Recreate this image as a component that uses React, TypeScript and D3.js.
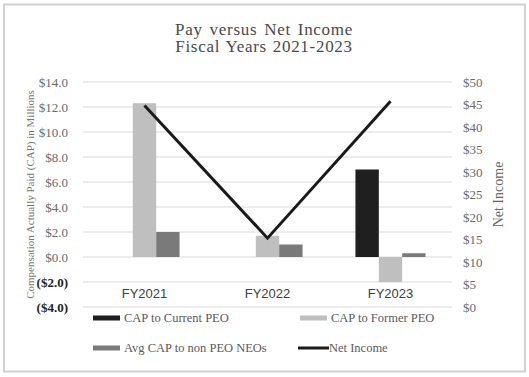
import React from "react";
import * as d3 from "d3";

const categories = ["FY2021", "FY2022", "FY2023"];
const seriesNames = ["CAP to Current PEO", "CAP to Former PEO", "Avg CAP to non PEO NEOs"];
const capCurrentPEO = [0, 0, 7.0];
const capFormerPEO = [12.3, 1.7, -2.0];
const avgCapNonPEO = [2.0, 1.0, 0.3];
const netIncome = [44.8, 15.3, 45.7];
const leftTicks = [-4, -2, 0, 2, 4, 6, 8, 10, 12, 14];
const rightTicks = [0, 5, 10, 15, 20, 25, 30, 35, 40, 45, 50];

const W = 529;
const H = 377;
const M = { left: 83, right: 77, top: 82, bottom: 70 };
const serif = "'Liberation Serif', 'Times New Roman', serif";
const sans = "'Liberation Sans', Arial, sans-serif";
const barColors = ["#1f1f1f", "#bfbfbf", "#7a7a7a"];

export default function App() {
  const x0 = d3
    .scaleBand<string>()
    .domain(categories)
    .range([M.left, W - M.right])
    .paddingInner(0.43)
    .paddingOuter(0.215);
  const x1 = d3.scaleBand<number>().domain([0, 1, 2]).range([0, x0.bandwidth()]);
  const yL = d3.scaleLinear().domain([-4, 14]).range([H - M.bottom, M.top]);
  const yR = d3.scaleLinear().domain([0, 50]).range([H - M.bottom, M.top]);
  const series = [capCurrentPEO, capFormerPEO, avgCapNonPEO];
  const cx = (c: string) => (x0(c) as number) + x0.bandwidth() / 2;
  const line = d3
    .line<number>()
    .x((_, i) => cx(categories[i]))
    .y((d) => yR(d));
  function fmtL(v: number) {
    const s = "$" + Math.abs(v).toFixed(1);
    return v < 0 ? "(" + s + ")" : s;
  }
  const legend = [
    { label: seriesNames[0], color: barColors[0], x: 93, y: 318, type: "bar" },
    { label: seriesNames[1], color: barColors[1], x: 300, y: 318, type: "bar" },
    { label: seriesNames[2], color: barColors[2], x: 93, y: 348, type: "bar" },
    { label: "Net Income", color: "#1a1a1a", x: 298, y: 348, type: "line" },
  ];
  return (
    <div style={{ position: "absolute", left: 0, top: 0 }}>
      <svg width={W} height={H} style={{ display: "block", background: "#fff" }}>
        <rect x={4} y={4.5} width={521} height={367} fill="#fff" stroke="#d2d2d2" strokeWidth={2} />
        <text x={264} y={34.5} textAnchor="middle" fontFamily={serif} fontSize={17} letterSpacing={0.7} wordSpacing={2} fill="#4a4a4a">
          Pay versus Net Income
        </text>
        <text x={264} y={52} textAnchor="middle" fontFamily={serif} fontSize={17} letterSpacing={0.7} wordSpacing={1} fill="#4a4a4a">
          Fiscal Years 2021-2023
        </text>
        {leftTicks.map((t) => (
          <g key={t}>
            <line x1={M.left} x2={W - M.right} y1={yL(t)} y2={yL(t)} stroke="#d9d9d9" strokeWidth={1} />
            <text
              x={68}
              y={yL(t)}
              dy="0.35em"
              textAnchor="end"
              fontFamily={serif}
              fontSize={13}
              fontWeight={t < 0 ? "bold" : "normal"}
              fill={t < 0 ? "#222" : "#6a6a6a"}
            >
              {fmtL(t)}
            </text>
          </g>
        ))}
        {rightTicks.map((t) => (
          <text key={t} x={463} y={yR(t)} dy="0.35em" fontFamily={serif} fontSize={13} fill="#6a6a6a">
            {"$" + t}
          </text>
        ))}
        {categories.map((c, ci) => (
          <g key={c}>
            {series.map((s, si) => {
              const v = s[ci];
              if (v === 0) return null;
              const xx = (x0(c) as number) + (x1(si) as number);
              return (
                <rect
                  key={si}
                  x={xx}
                  width={x1.bandwidth()}
                  y={Math.min(yL(v), yL(0))}
                  height={Math.abs(yL(v) - yL(0))}
                  fill={barColors[si]}
                />
              );
            })}
          </g>
        ))}
        <path d={line(netIncome) || ""} fill="none" stroke="#1a1a1a" strokeWidth={3} />
        {categories.map((c) => (
          <text key={c} x={cx(c)} y={293} dy="0.35em" textAnchor="middle" fontFamily={sans} fontSize={13} fill="#404040">
            {c}
          </text>
        ))}
        <text
          transform={`translate(30,${(M.top + H - M.bottom) / 2}) rotate(-90)`}
          textAnchor="middle"
          dy="0.35em"
          fontFamily={serif}
          fontSize={11}
          fill="#777"
        >
          Compensation Actually Paid (CAP) in Millions
        </text>
        <text
          transform={`translate(498,${(M.top + H - M.bottom) / 2}) rotate(-90)`}
          textAnchor="middle"
          dy="0.35em"
          fontFamily={serif}
          fontSize={14}
          fill="#666"
        >
          Net Income
        </text>
        {legend.map((l) => (
          <g key={l.label}>
            {l.type === "bar" ? (
              <rect x={l.x} y={l.y - 2.5} width={27} height={5} fill={l.color} />
            ) : (
              <line x1={l.x} x2={l.x + 31} y1={l.y} y2={l.y} stroke={l.color} strokeWidth={3} />
            )}
            <text x={l.x + 31} y={l.y} dy="0.35em" fontFamily={serif} fontSize={12.5} fill="#5a5a5a">
              {l.label}
            </text>
          </g>
        ))}
      </svg>
    </div>
  );
}
